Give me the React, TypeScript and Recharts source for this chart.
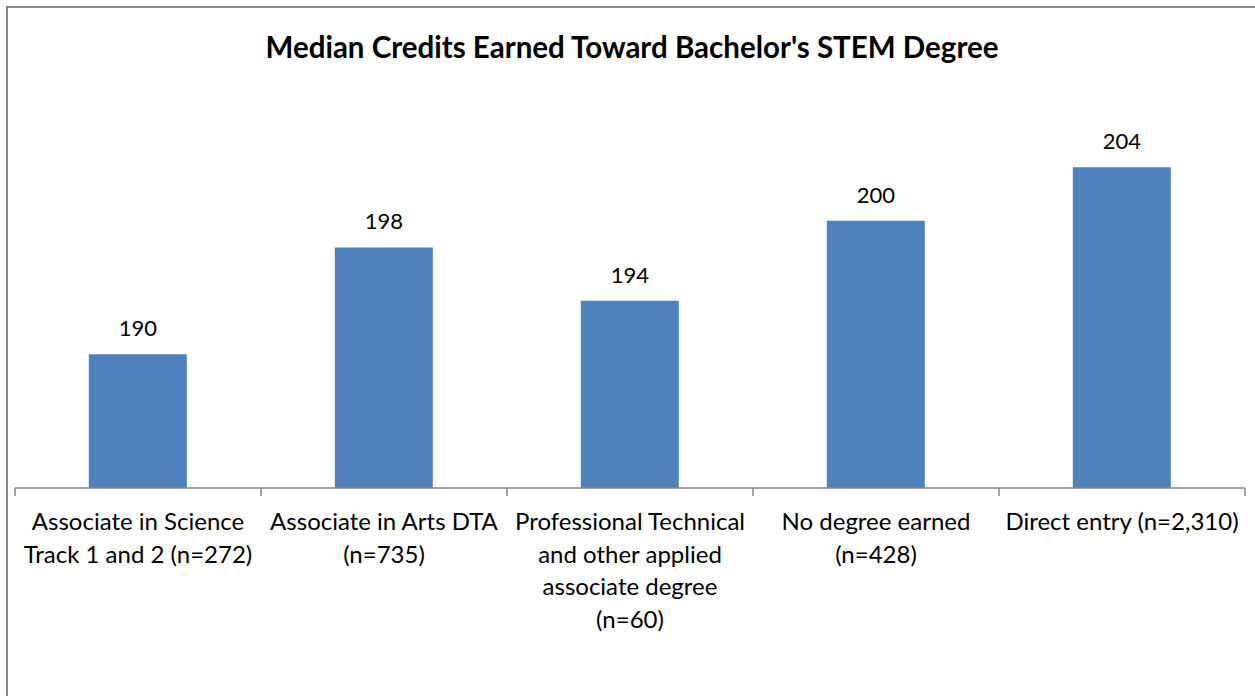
import { BarChart, Bar, XAxis, YAxis, LabelList } from 'recharts'

const categories = [
  'Associate in Science\nTrack 1 and 2 (n=272)',
  'Associate in Arts DTA\n(n=735)',
  'Professional Technical\nand other applied\nassociate degree\n(n=60)',
  'No degree earned\n(n=428)',
  'Direct entry (n=2,310)',
]
const medianCredits = [190, 198, 194, 200, 204]
const title = "Median Credits Earned Toward Bachelor's STEM Degree"

const data = categories.map((name, i) => ({ name, credits: medianCredits[i] }))

const FONT = 'Lato, "Open Sans", sans-serif'
const AXIS_GREY = '#868686'

// Excel-style axis: tick marks sit between categories, label under the middle
// eslint-disable-next-line @typescript-eslint/no-explicit-any
function CategoryTick({ x, y, payload, width, visibleTicksCount, index }: any) {
  const lines = String(payload.value).split('\n')
  const band = (width || 1230) / (visibleTicksCount || categories.length)
  const left = x - band / 2
  const right = x + band / 2
  return (
    <g>
      <line x1={left} x2={left} y1={y - 8} y2={y} stroke={AXIS_GREY} strokeWidth={1.5} />
      {index === categories.length - 1 && (
        <line x1={right} x2={right} y1={y - 8} y2={y} stroke={AXIS_GREY} strokeWidth={1.5} />
      )}
      <text x={x} y={y} textAnchor="middle" fill="#000" fontSize={24} fontFamily={FONT}>
        {lines.map((line, i) => (
          <tspan key={i} x={x} dy={i === 0 ? 34 : 32.5}>
            {line}
          </tspan>
        ))}
      </text>
    </g>
  )
}

export default function App() {
  return (
    <div
      style={{
        position: 'absolute',
        left: 0,
        top: 0,
        width: 1255,
        height: 696,
        overflow: 'hidden',
        background: '#fff',
        fontFamily: FONT,
      }}
    >
      <div
        style={{
          position: 'absolute',
          left: 6,
          top: 6,
          width: 1270,
          height: 710,
          border: '2px solid #898989',
        }}
      />
      <div
        style={{
          position: 'absolute',
          left: 0,
          top: 29,
          width: 1264,
          textAlign: 'center',
          fontWeight: 'bold',
          fontSize: 29.5,
          color: '#000',
        }}
      >
        {title}
      </div>
      <div style={{ position: 'absolute', left: 0, top: 0 }}>
        <BarChart
          width={1255}
          height={696}
          data={data}
          margin={{ top: 87, right: 10, left: 15, bottom: 8 }}
          barCategoryGap="30%"
        >
          <XAxis
            dataKey="name"
            height={200}
            interval={0}
            axisLine={{ stroke: AXIS_GREY, strokeWidth: 1.5 }}
            tickLine={false}
            tickSize={8}
            tickMargin={0}
            tick={<CategoryTick />}
          />
          <YAxis hide domain={[180, 210]} />
          <Bar dataKey="credits" fill="#4F81BD" isAnimationActive={false}>
            <LabelList
              dataKey="credits"
              position="top"
              offset={18}
              fill="#000"
              fontSize={22}
              fontFamily={FONT}
            />
          </Bar>
        </BarChart>
      </div>
    </div>
  )
}
